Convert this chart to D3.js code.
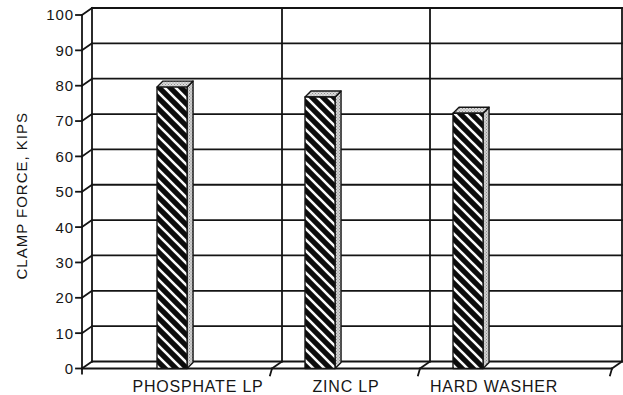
<!DOCTYPE html>
<html>
<head>
<meta charset="utf-8">
<script src="https://cdn.jsdelivr.net/npm/d3@7/dist/d3.min.js"></script>
<style>
  html, body { margin: 0; padding: 0; background: #fff; }
  svg { display: block; }
  text { font-family: "Liberation Sans", Arial, Helvetica, sans-serif; fill: #161616; }
</style>
</head>
<body>
<svg id="chart" width="623" height="395"></svg>
<script>
// Clamp force by fastener treatment
const categories = ["PHOSPHATE LP", "ZINC LP", "HARD WASHER"];
const clampForce = [79.6, 76.8, 72.2];
const yTicks = [0, 10, 20, 30, 40, 50, 60, 70, 80, 90, 100];
const yTitle = "CLAMP FORCE, KIPS";

const svg = d3.select("#chart");
const ink = "#141414";

// Pseudo-3D frame: front plane and depth offset of the back wall
const frontLeft = 82, frontRight = 612;
const depth = { dx: 10, dy: -7 };
const barDepth = { dx: 6, dy: -6 };

const y = d3.scaleLinear().domain([0, 100]).range([368.5, 15]);
const x = d3.scaleBand().domain(categories).range([124, 568]).padding(0);
const barOffset = 0.223, barWidth = 0.203;

// Patterns: diagonal hatch for bar fronts, stipple for shaded faces
const defs = svg.append("defs");
const hatch = defs.append("pattern")
  .attr("id", "hatch").attr("patternUnits", "userSpaceOnUse")
  .attr("width", 11).attr("height", 11);
hatch.append("rect").attr("width", 11).attr("height", 11).attr("fill", "#0c0c0c");
hatch.append("path")
  .attr("d", "M-2,-2 L13,13 M-2,9 L2,13 M9,-2 L13,2")
  .attr("stroke", "#fafafa").attr("stroke-width", 2.6);

function stipple(id, base, dot) {
  const p = defs.append("pattern")
    .attr("id", id).attr("patternUnits", "userSpaceOnUse")
    .attr("width", 3).attr("height", 3);
  p.append("rect").attr("width", 3).attr("height", 3).attr("fill", base);
  p.append("rect").attr("x", 0).attr("y", 0).attr("width", 1).attr("height", 1).attr("fill", dot);
  p.append("rect").attr("x", 1.5).attr("y", 1.5).attr("width", 1).attr("height", 1).attr("fill", dot);
}
stipple("sideDots", "#d2d2d2", "#8a8a8a");
stipple("topDots", "#dcdcdc", "#8a8a8a");

const frame = svg.append("g")
  .attr("fill", "none").attr("stroke", ink).attr("stroke-width", 1.8)
  .attr("stroke-linecap", "square");

const backL = frontLeft + depth.dx, backR = frontRight + depth.dx;
const y0 = y(0);

// Back wall gridlines and the diagonals on the left side wall
yTicks.forEach(t => {
  frame.append("line")
    .attr("x1", backL).attr("x2", backR)
    .attr("y1", y(t) + depth.dy).attr("y2", y(t) + depth.dy);
  frame.append("line")
    .attr("x1", frontLeft).attr("y1", y(t))
    .attr("x2", backL).attr("y2", y(t) + depth.dy);
});

// Left side wall edge and back wall right edge
frame.append("line")
  .attr("x1", backL).attr("x2", backL)
  .attr("y1", y(100) + depth.dy).attr("y2", y0 + depth.dy);
frame.append("line")
  .attr("x1", backR).attr("x2", backR)
  .attr("y1", y(100) + depth.dy).attr("y2", y0 + depth.dy);

// Category dividers: up the back wall, across the floor, tick below the floor edge
const dividers = categories.slice(1).map(c => x(c)).concat([frontRight]);
dividers.forEach((dx0, i) => {
  const last = i === dividers.length - 1;
  if (!last) {
    frame.append("line")
      .attr("x1", dx0 + depth.dx).attr("x2", dx0 + depth.dx)
      .attr("y1", y(100) + depth.dy).attr("y2", y0 + depth.dy);
  }
  frame.append("line")
    .attr("x1", dx0 + depth.dx).attr("y1", y0 + depth.dy)
    .attr("x2", dx0).attr("y2", y0);
  frame.append("line")
    .attr("x1", dx0).attr("y1", y0)
    .attr("x2", dx0 - 2).attr("y2", y0 + 7);
});

// Floor front edge
frame.append("line")
  .attr("x1", frontLeft).attr("x2", frontRight)
  .attr("y1", y0).attr("y2", y0);

// Front value axis with ticks
frame.append("line")
  .attr("x1", frontLeft).attr("x2", frontLeft)
  .attr("y1", y(100)).attr("y2", y0 + 5);
frame.selectAll(".ytick").data(yTicks).enter().append("line")
  .attr("x1", frontLeft - 6).attr("x2", frontLeft)
  .attr("y1", d => y(d)).attr("y2", d => y(d));

// Value labels
svg.append("g").selectAll("text").data(yTicks).enter().append("text")
  .attr("x", frontLeft - 8).attr("y", d => y(d))
  .attr("dy", "0.36em").attr("text-anchor", "end")
  .attr("font-size", 15).attr("letter-spacing", 0.9)
  .text(d => d);

// Axis title
svg.append("text")
  .attr("transform", `translate(27, ${y(50) + 4}) rotate(-90)`)
  .attr("text-anchor", "middle")
  .attr("font-size", 15).attr("letter-spacing", 1)
  .text(yTitle);

// Category labels
svg.append("g").selectAll("text").data(categories).enter().append("text")
  .attr("x", d => x(d) + x.bandwidth() / 2)
  .attr("y", 392)
  .attr("text-anchor", "middle")
  .attr("font-size", 16).attr("letter-spacing", 0.8)
  .text(d => d);

// Bars: front face, right side, top
const bars = svg.append("g").attr("stroke", ink).attr("stroke-width", 1.4)
  .attr("stroke-linejoin", "round");
categories.forEach((c, i) => {
  const v = clampForce[i];
  const bx = x(c) + x.bandwidth() * barOffset;
  const bw = x.bandwidth() * barWidth;
  const top = y(v);
  const g = bars.append("g");
  g.append("path")
    .attr("fill", "url(#sideDots)")
    .attr("d", `M${bx + bw},${top} L${bx + bw + barDepth.dx},${top + barDepth.dy} ` +
               `L${bx + bw + barDepth.dx},${y0 + barDepth.dy} L${bx + bw},${y0} Z`);
  g.append("path")
    .attr("fill", "url(#topDots)")
    .attr("d", `M${bx},${top} L${bx + barDepth.dx},${top + barDepth.dy} ` +
               `L${bx + bw + barDepth.dx},${top + barDepth.dy} L${bx + bw},${top} Z`);
  g.append("rect")
    .attr("x", bx).attr("y", top)
    .attr("width", bw).attr("height", y0 - top)
    .attr("fill", "url(#hatch)");
});
</script>
</body>
</html>
